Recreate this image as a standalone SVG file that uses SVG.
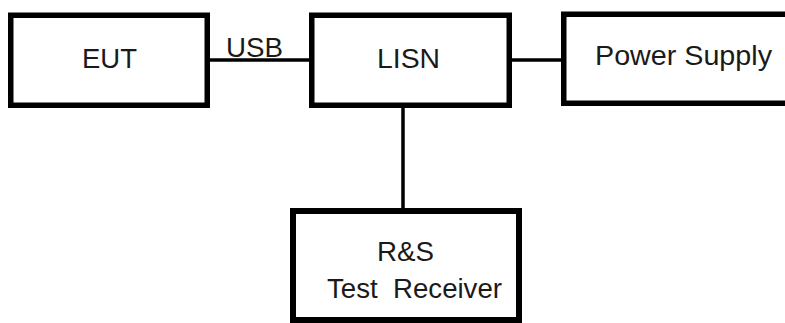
<svg xmlns="http://www.w3.org/2000/svg" width="785" height="323" viewBox="0 0 785 323">
<style>
.box{fill:#fff;stroke:#000;stroke-width:5.5}
.lbl{font-family:"Liberation Sans",Arial,sans-serif;font-size:27px;fill:#1a1a1a;white-space:pre}
.wire{stroke:#000;stroke-width:3.5;fill:none}
</style>
<rect width="785" height="323" fill="#fff"/>
<g id="connectors">
<line class="wire" x1="210" y1="60" x2="310" y2="60"/>
<line class="wire" x1="511" y1="60" x2="562" y2="60"/>
<line class="wire" x1="403" y1="107" x2="403" y2="209"/>
<text class="lbl" x="226" y="57" textLength="57" lengthAdjust="spacingAndGlyphs">USB</text>
</g>
<g id="eut">
<rect class="box" x="10.75" y="15.25" width="196.5" height="90"/>
<text class="lbl" x="82" y="68" textLength="55" lengthAdjust="spacingAndGlyphs">EUT</text>
</g>
<g id="lisn">
<rect class="box" x="311.75" y="15.25" width="197.5" height="90"/>
<text class="lbl" x="377" y="68" textLength="63" lengthAdjust="spacingAndGlyphs">LISN</text>
</g>
<g id="power">
<rect class="box" x="563.75" y="14.25" width="240" height="89"/>
<text class="lbl" x="595" y="65" textLength="177" lengthAdjust="spacingAndGlyphs">Power Supply</text>
</g>
<g id="receiver">
<rect class="box" x="293" y="211" width="226" height="109" style="stroke-width:6"/>
<text class="lbl" x="377" y="261" textLength="57" lengthAdjust="spacingAndGlyphs">R&amp;S</text>
<text class="lbl" x="327" y="298" textLength="175" lengthAdjust="spacingAndGlyphs">Test  Receiver</text>
</g>
</svg>
